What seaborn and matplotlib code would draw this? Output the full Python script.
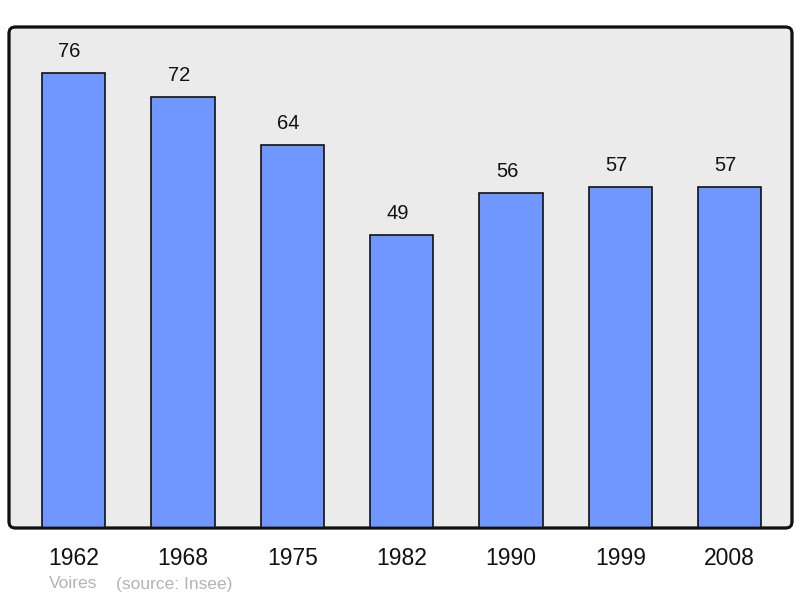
import matplotlib
matplotlib.use("Agg")
import matplotlib.pyplot as plt
import seaborn as sns
import pandas as pd
from matplotlib.patches import FancyBboxPatch
from matplotlib.transforms import offset_copy

years = ["1962", "1968", "1975", "1982", "1990", "1999", "2008"]
population = [76, 72, 64, 49, 56, 57, 57]

sns.set_style("white")
plt.rcParams['font.family'] = ['Liberation Sans', 'DejaVu Sans']

df = pd.DataFrame({"year": years, "pop": population})

fig = plt.figure(figsize=(8.0, 5.98), dpi=100)
ax = fig.add_axes([9/800, 70/598, 783/800, 501/598])
ax.set_facecolor("none")

sns.barplot(data=df, x="year", y="pop", ax=ax, color="#7097ff", saturation=1,
            width=0.58, edgecolor="#111111", linewidth=1.2, zorder=2)

ax.set_xlim(-0.59, 6.57)
ax.set_ylim(0, 83.7)
lbl_tr = offset_copy(ax.transData, fig=fig, x=-4, y=12, units="dots")
for i, v in enumerate(population):
    ax.text(i, v, str(v), ha="center", va="bottom", fontsize=14.5,
            color="#111111", transform=lbl_tr)

ax.set_xlabel("")
ax.set_ylabel("")
ax.set_yticks([])
ax.tick_params(axis="x", length=0, labelsize=16.5, pad=14, colors="#111111")
for s in ax.spines.values():
    s.set_visible(False)

frame = FancyBboxPatch((0, 0), 1, 1, boxstyle="round,pad=0,rounding_size=0.008",
                       transform=ax.transAxes, facecolor="#ebebeb",
                       edgecolor="#111111", linewidth=2, zorder=0, clip_on=False,
                       mutation_aspect=783/501)
ax.add_patch(frame)
frame2 = FancyBboxPatch((0, 0), 1, 1, boxstyle="round,pad=0,rounding_size=0.008",
                        transform=ax.transAxes, facecolor="none",
                        edgecolor="#111111", linewidth=2, zorder=5, clip_on=False,
                        mutation_aspect=783/501)
ax.add_patch(frame2)

fig.text(49/800, 1 - 584/598, "Voires", fontsize=12.5, color="#b3b3b3", va="center")
fig.text(116/800, 1 - 584/598, "(source: Insee)", fontsize=12.5, color="#b3b3b3", va="center")

fig.savefig("out.png", dpi=100)
